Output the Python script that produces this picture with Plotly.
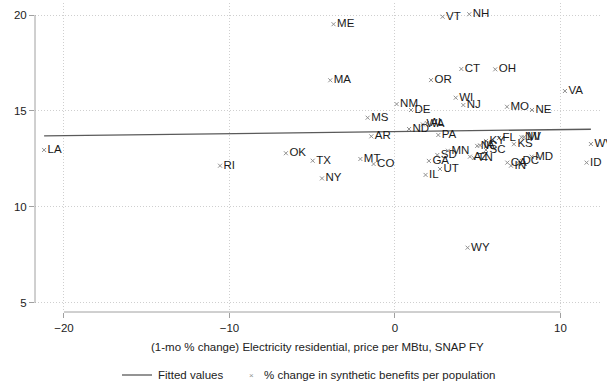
import plotly.graph_objects as go

# ---- data ----
states = ["LA", "RI", "OK", "TX", "NY", "ME", "MA", "MT", "CO", "MS", "AR",
          "NM", "DE", "ND", "WA", "AL", "PA", "OR", "VT", "NH", "CT", "OH",
          "WI", "NJ", "MO", "NE", "VA", "WV", "ID", "WY", "IL", "UT", "GA",
          "SD", "MN", "AZ", "TN", "NC", "IA", "KY", "SC", "FL", "KS", "NV",
          "MI", "CA", "IN", "DC", "MD"]
elec_change = [-21.2, -10.57, -6.59, -4.97, -4.41, -3.71, -3.91, -2.09, -1.29, -1.65, -1.43,
               0.10, 0.97, 0.85, 1.69, 1.93, 2.62, 2.18, 2.88, 4.49, 4.01, 6.06,
               3.67, 4.13, 6.77, 8.28, 10.27, 11.84, 11.58, 4.39, 1.85, 2.72, 2.05,
               2.56, 3.20, 4.53, 4.77, 4.97, 5.14, 5.50, 5.50, 6.28, 7.19, 7.65,
               7.79, 6.79, 7.01, 7.49, 8.26]
benefit_change = [12.97, 12.15, 12.80, 12.41, 11.49, 19.52, 16.60, 12.50, 12.24, 14.65, 13.68,
                  15.36, 15.05, 14.06, 14.30, 14.37, 13.75, 16.61, 19.91, 20.04, 17.19, 17.17,
                  15.69, 15.31, 15.22, 15.05, 16.04, 13.28, 12.31, 7.88, 11.67, 11.98, 12.40,
                  12.71, 12.93, 12.62, 12.55, 13.18, 13.21, 13.44, 12.97, 13.59, 13.27, 13.63,
                  13.63, 12.31, 12.15, 12.40, 12.62]
fit_x = [-21.2, 11.84]
fit_y = [13.70, 14.05]

x_ticks = [-20, -10, 0, 10]
y_ticks = [5, 10, 15, 20]

FONT = "Liberation Sans, Arial, Helvetica, sans-serif"
FS = 11.5
AXIS_GRAY = "#a0a0a0"
GRID = dict(showgrid=True, gridcolor="#cfcfcf", griddash="1px,2px", gridwidth=1)

fig = go.Figure()
fig.add_trace(go.Scatter(
    x=fit_x, y=fit_y, mode="lines",
    line=dict(color="#5a5a5a", width=1.3),
    name="Fitted values", hoverinfo="skip"))
fig.add_trace(go.Scatter(
    x=elec_change, y=benefit_change, mode="markers+text",
    text=states, textposition="middle right",
    textfont=dict(family=FONT, size=FS, color="#1a1a1a"),
    marker=dict(symbol="x-thin", size=4, line=dict(width=1, color="#909090"), color="#909090"),
    cliponaxis=False,
    name="% change in synthetic benefits per population"))

fig.update_layout(
    width=607, height=383,
    margin=dict(l=35, r=7, t=3, b=71),
    paper_bgcolor="white", plot_bgcolor="white",
    showlegend=False,
    font=dict(family=FONT, size=FS, color="#222"),
    xaxis=dict(range=[-21.75, 12.39], tickvals=x_ticks, ticks="outside", ticklen=5,
               tickcolor=AXIS_GRAY, showline=False, zeroline=False, **GRID,
               tickfont=dict(family=FONT, size=FS, color="#222")),
    yaxis=dict(range=[4.53, 20.625], tickvals=y_ticks, ticks="outside", ticklen=5,
               tickcolor=AXIS_GRAY, showline=False, zeroline=False, **GRID,
               tickfont=dict(family=FONT, size=FS, color="#222")),
)

# axis lines spanning tick range only (Stata style)
fig.add_shape(type="line", xref="paper", yref="y", x0=0, x1=0, y0=min(y_ticks), y1=max(y_ticks),
              line=dict(color=AXIS_GRAY, width=1))
fig.add_shape(type="line", xref="x", yref="paper", x0=min(x_ticks), x1=max(x_ticks), y0=0, y1=0,
              line=dict(color=AXIS_GRAY, width=1))

# axis title
fig.add_annotation(text="(1-mo % change) Electricity residential, price per MBtu, SNAP FY",
                   xref="paper", yref="paper", x=0.5, y=(312 - 347) / 309,
                   showarrow=False, xanchor="center", yanchor="middle",
                   font=dict(family=FONT, size=FS, color="#222"))

# legend (manual)
ly = (312 - 375) / 309
fig.add_shape(type="line", xref="paper", yref="paper",
              x0=(122 - 35) / 565, x1=(152 - 35) / 565, y0=ly, y1=ly,
              line=dict(color="#5a5a5a", width=1.3))
fig.add_annotation(text="Fitted values", xref="paper", yref="paper",
                   x=(225 - 35) / 565, y=ly, showarrow=False, xanchor="right", yanchor="middle",
                   font=dict(family=FONT, size=FS, color="#222"))
fig.add_annotation(text="×", xref="paper", yref="paper",
                   x=(251 - 35) / 565, y=ly, showarrow=False, xanchor="center", yanchor="middle",
                   font=dict(family=FONT, size=8, color="#909090"))
fig.add_annotation(text="% change in synthetic benefits per population", xref="paper", yref="paper",
                   x=(262 - 35) / 565, y=ly, showarrow=False, xanchor="left", yanchor="middle",
                   font=dict(family=FONT, size=FS, color="#222"))

fig.write_html("out.html")
